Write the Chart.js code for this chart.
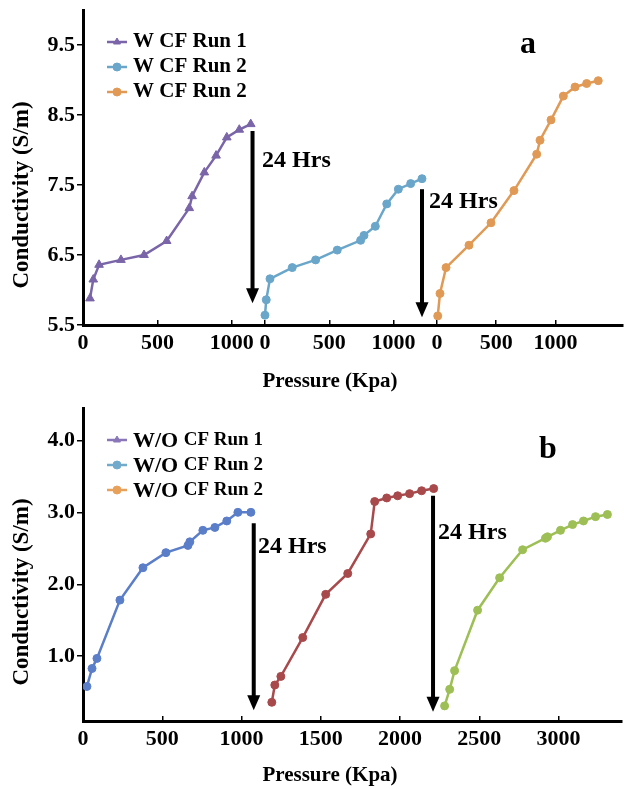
<!DOCTYPE html>
<html>
<head>
<meta charset="utf-8">
<script src="https://cdn.jsdelivr.net/npm/chart.js@4.4.1/dist/chart.umd.min.js"></script>
<style>
  html, body { margin: 0; padding: 0; background: #fff; }
  canvas { display: block; }
</style>
</head>
<body>
<canvas id="chart-a" width="624" height="395"></canvas>
<canvas id="chart-b" width="624" height="394"></canvas>
<script>
// panel a : with CF, pressure (kPa) per run, conductivity (S/m)
const run1APressure = [47, 69, 108, 255, 410, 562, 714, 733, 815, 894, 966, 1050, 1127];
const run1ACond = [5.88, 6.15, 6.36, 6.43, 6.50, 6.70, 7.17, 7.34, 7.68, 7.92, 8.18, 8.29, 8.37];
const run2APressure = [0, 10, 39, 212, 394, 562, 744, 770, 858, 947, 1037, 1133, 1221];
const run2ACond = [5.64, 5.86, 6.16, 6.32, 6.43, 6.57, 6.71, 6.78, 6.91, 7.23, 7.44, 7.52, 7.59];
const run3APressure = [6, 25, 76, 270, 456, 650, 842, 870, 963, 1067, 1166, 1264, 1362];
const run3ACond = [5.63, 5.95, 6.32, 6.64, 6.96, 7.42, 7.94, 8.14, 8.43, 8.77, 8.90, 8.95, 8.99];

// panel b : without CF
const run1BPressure = [25, 57, 88, 233, 378, 523, 662, 674, 756, 832, 907, 977, 1059];
const run1BCond = [0.58, 0.83, 0.97, 1.78, 2.23, 2.44, 2.54, 2.59, 2.75, 2.79, 2.88, 3.00, 3.00];
const run2BPressure = [1191, 1210, 1248, 1386, 1531, 1670, 1815, 1840, 1916, 1985, 2060, 2136, 2212];
const run2BCond = [0.36, 0.60, 0.72, 1.26, 1.86, 2.15, 2.70, 3.15, 3.20, 3.23, 3.26, 3.30, 3.33];
const run3BPressure = [2281, 2313, 2344, 2489, 2628, 2773, 2917, 2930, 3012, 3088, 3157, 3233, 3308];
const run3BCond = [0.31, 0.54, 0.80, 1.64, 2.09, 2.48, 2.64, 2.66, 2.75, 2.83, 2.88, 2.94, 2.97];

// ticks
const xTicksA = [0, 500, 1000];
const yTicksA = [5.5, 6.5, 7.5, 8.5, 9.5];
const xTicksB = [0, 500, 1000, 1500, 2000, 2500, 3000];
const yTicksB = [1.0, 2.0, 3.0, 4.0];

const legendA = ['W CF Run 1', 'W CF Run 2', 'W CF Run 2'];
const legendB = ['W/O CF Run 1', 'W/O CF Run 2', 'W/O CF Run 2'];

const SERIF = '"Liberation Serif", "DejaVu Serif", serif';
const tickFont = { family: SERIF, size: 22, weight: 'bold' };

// draws the legend, the 24 Hrs arrows, panel letter and axis titles
const overlay = {
  id: 'overlay',
  afterDraw(chart, args, o) {
    const ctx = chart.ctx;
    const ys = chart.scales.y;
    ctx.save();

    // arrows
    o.arrows.forEach(a => {
      const xs = chart.scales[a.axis];
      const px = xs.getPixelForValue(a.x);
      const top = ys.getPixelForValue(a.from);
      const tip = ys.getPixelForValue(a.to);
      ctx.strokeStyle = '#000';
      ctx.fillStyle = '#000';
      ctx.lineWidth = 4;
      ctx.beginPath();
      ctx.moveTo(px, top);
      ctx.lineTo(px, tip - 12);
      ctx.stroke();
      ctx.beginPath();
      ctx.moveTo(px - 6.5, tip - 15);
      ctx.lineTo(px + 6.5, tip - 15);
      ctx.lineTo(px, tip);
      ctx.closePath();
      ctx.fill();
      ctx.font = 'bold 24px ' + SERIF;
      ctx.textAlign = 'left';
      ctx.textBaseline = 'middle';
      ctx.fillText(a.label, xs.getPixelForValue(a.labelX), ys.getPixelForValue(a.labelY));
    });

    // legend
    const lg = o.legend;
    lg.labels.forEach((text, i) => {
      const cy = lg.y + i * lg.gap;
      const col = lg.colors[i];
      ctx.strokeStyle = col;
      ctx.fillStyle = col;
      ctx.lineWidth = 2.5;
      ctx.beginPath();
      ctx.moveTo(lg.x, cy);
      ctx.lineTo(lg.x + 20, cy);
      ctx.stroke();
      ctx.lineWidth = 1;
      Chart.helpers.drawPoint(ctx, { pointStyle: lg.styles[i], radius: 4, rotation: 0, borderWidth: 1 }, lg.x + 10, cy);
      ctx.fillStyle = '#000';
      ctx.textAlign = 'left';
      ctx.textBaseline = 'middle';
      if (lg.split) {
        const first = text.split(' ')[0];
        const rest = text.slice(first.length + 1);
        ctx.font = 'bold 22px ' + SERIF;
        ctx.fillText(first, lg.x + 26, cy + 1);
        const w = ctx.measureText(first + ' ').width;
        ctx.font = 'bold 19px ' + SERIF;
        ctx.fillText(rest, lg.x + 26 + w, cy);
      } else {
        ctx.font = 'bold 21px ' + SERIF;
        ctx.fillText(text, lg.x + 26, cy);
      }
    });

    // panel letter
    ctx.fillStyle = '#000';
    ctx.textAlign = 'center';
    ctx.textBaseline = 'middle';
    ctx.font = 'bold 32px ' + SERIF;
    ctx.fillText(o.letter.text, o.letter.x, o.letter.y);

    // axis titles
    ctx.font = 'bold 21px ' + SERIF;
    ctx.fillText(o.xTitle.text, o.xTitle.x, o.xTitle.y);
    ctx.translate(o.yTitle.x, o.yTitle.y);
    ctx.rotate(-Math.PI / 2);
    ctx.font = 'bold 23px ' + SERIF;
    ctx.fillText(o.yTitle.text, 0, 0);
    ctx.restore();
  }
};

function series(label, xs, ys, color, style, axis) {
  return {
    label,
    data: xs.map((x, i) => ({ x, y: ys[i] })),
    xAxisID: axis,
    yAxisID: 'y',
    showLine: true,
    borderColor: color,
    backgroundColor: color,
    borderWidth: 2.5,
    pointStyle: style,
    pointRadius: style === 'triangle' ? 5 : 4,
    pointBorderWidth: 1,
    tension: 0
  };
}

function xAxis(ticks, min, max, height, extra) {
  return Object.assign({
    type: 'linear',
    position: 'bottom',
    min, max,
    afterBuildTicks: s => { s.ticks = ticks.map(v => ({ value: v })); },
    afterFit: s => {
      s.height = height;
      s.paddingLeft = 0;
      s.paddingRight = 0;
    },
    border: { display: true, color: '#000', width: 3 },
    grid: { drawOnChartArea: false, drawTicks: true, tickLength: -5, color: '#000', lineWidth: 1.5 },
    ticks: { color: '#000', font: tickFont, padding: 10, maxRotation: 0, autoSkip: false, callback: v => String(v) }
  }, extra || {});
}

function yAxis(ticks, min, max) {
  return {
    type: 'linear',
    position: 'left',
    min, max,
    afterBuildTicks: s => { s.ticks = ticks.map(v => ({ value: v })); },
    afterFit: s => {
      s.width = 83;
      s.paddingTop = 0;
      s.paddingBottom = 0;
    },
    border: { display: true, color: '#000', width: 3 },
    grid: { drawOnChartArea: false, drawTicks: true, tickLength: 6, color: '#000', lineWidth: 1.5 },
    ticks: { color: '#000', font: tickFont, padding: 2, callback: v => v.toFixed(1) }
  };
}

const basePlugins = { legend: { display: false }, tooltip: { enabled: false } };

new Chart(document.getElementById('chart-a'), {
  type: 'scatter',
  data: {
    datasets: [
      series(legendA[0], run1APressure, run1ACond, '#7a65a8', 'triangle', 'x1'),
      series(legendA[1], run2APressure, run2ACond, '#6aa6c9', 'circle', 'x2'),
      series(legendA[2], run3APressure, run3ACond, '#e09a55', 'circle', 'x3')
    ]
  },
  options: {
    responsive: false,
    animation: false,
    devicePixelRatio: 1,
    layout: { autoPadding: false, padding: { top: 10, right: 1, left: 0, bottom: 0 } },
    scales: {
      // three pressure segments side by side
      x1: xAxis(xTicksA, 0, 1169, 70, { stack: 'pressure', stackWeight: 174 }),
      x2: xAxis(xTicksA, -62, 1291, 70, { stack: 'pressure', stackWeight: 174 }),
      x3: xAxis(xTicksA, -51, 1571, 70, { stack: 'pressure', stackWeight: 192 }),
      y: yAxis(yTicksA, 5.5, 10.0)
    },
    plugins: Object.assign({}, basePlugins, {
      overlay: {
        arrows: [
          { axis: 'x1', x: 1139, from: 8.27, to: 5.81, label: '24 Hrs', labelX: 1203, labelY: 7.84 },
          { axis: 'x2', x: 1221, from: 7.44, to: 5.61, label: '24 Hrs', labelX: 1276, labelY: 7.26 }
        ],
        legend: { labels: legendA, colors: ['#7a65a8', '#6aa6c9', '#e09a55'], styles: ['triangle', 'circle', 'circle'], x: 107, y: 42, gap: 25, split: false },
        letter: { text: 'a', x: 528, y: 45 },
        xTitle: { text: 'Pressure (Kpa)', x: 330, y: 382 },
        yTitle: { text: 'Conductivity (S/m)', x: 22, y: 195 }
      }
    })
  },
  plugins: [overlay]
});

new Chart(document.getElementById('chart-b'), {
  type: 'scatter',
  data: {
    datasets: [
      series(legendB[0], run1BPressure, run1BCond, '#5b7ec9', 'circle', 'x'),
      series(legendB[1], run2BPressure, run2BCond, '#a84a4c', 'circle', 'x'),
      series(legendB[2], run3BPressure, run3BCond, '#9dbf55', 'circle', 'x')
    ]
  },
  options: {
    responsive: false,
    animation: false,
    devicePixelRatio: 1,
    layout: { autoPadding: false, padding: { top: 13, right: 2, left: 0, bottom: 0 } },
    scales: {
      x: xAxis(xTicksB, 0, 3400, 68),
      y: yAxis(yTicksB, 0.1, 4.45)
    },
    plugins: Object.assign({}, basePlugins, {
      overlay: {
        arrows: [
          { axis: 'x', x: 1077, from: 2.85, to: 0.25, label: '24 Hrs', labelX: 1104, labelY: 2.52 },
          { axis: 'x', x: 2208, from: 3.23, to: 0.23, label: '24 Hrs', labelX: 2240, labelY: 2.71 }
        ],
        legend: { labels: legendB, colors: ['#8a77b8', '#72aacb', '#e8a15a'], styles: ['triangle', 'circle', 'circle'], x: 107, y: 45, gap: 25, split: true },
        letter: { text: 'b', x: 548, y: 55 },
        xTitle: { text: 'Pressure (Kpa)', x: 330, y: 381 },
        yTitle: { text: 'Conductivity (S/m)', x: 22, y: 197 }
      }
    })
  },
  plugins: [overlay]
});
</script>
</body>
</html>
